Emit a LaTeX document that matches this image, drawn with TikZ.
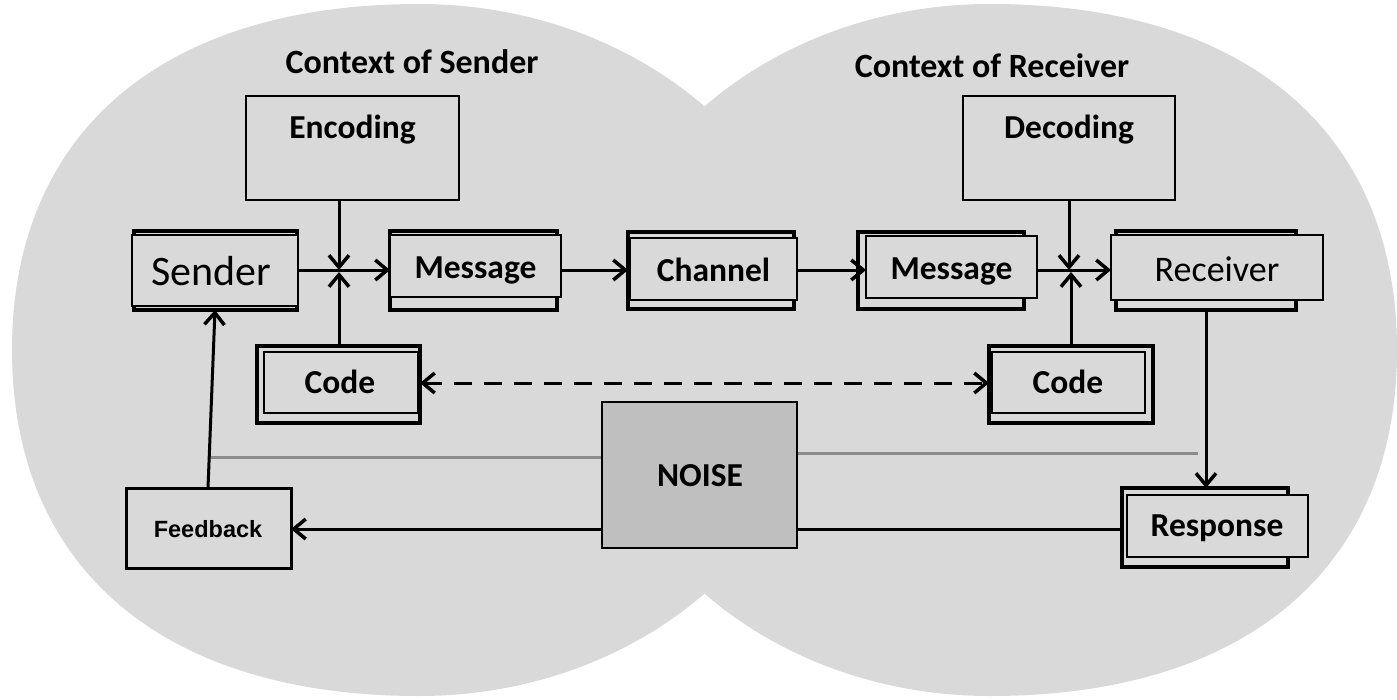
\documentclass[tikz,border=0pt]{standalone}
\usepackage{fontspec}
\setmainfont{Carlito}
\newfontfamily\arialf{Liberation Sans}
\usetikzlibrary{arrows.meta}
\definecolor{bgc}{HTML}{D9D9D9}
\definecolor{noisec}{HTML}{BFBFBF}
\definecolor{greyl}{HTML}{8C8C8C}
\tikzset{
  backbox/.style={draw=black, line width=3.2pt, fill=bgc, inner sep=0pt, outer sep=0pt},
  frontbox/.style={draw=black, line width=2pt, fill=bgc, inner sep=0pt, outer sep=0pt},
  plainbox/.style={draw=black, line width=2.6pt, fill=bgc, inner sep=0pt, outer sep=0pt},
  lbl/.style={inner sep=0pt, anchor=base, font=\fontsize{33.5}{40}\selectfont\bfseries},
  barb/.tip={Straight Barb[length=12pt,width=20pt,line width=3.5pt]},
  arr/.style={line width=3pt, -barb},
  greyline/.style={line width=3pt, draw=greyl},
}
\begin{document}
\begin{tikzpicture}[x=1pt,y=-1pt]
\useasboundingbox (0,0) rectangle (1397,699);
\fill[white] (0,0) rectangle (1397,699);
% context shapes (slightly fuller than ellipses on the outer sides)
\fill[bgc] (12,350) .. controls (12,132) and (162.6,4) .. (419,4)
  .. controls (641,4) and (821,159) .. (821,350)
  .. controls (821,541) and (641,696) .. (419,696)
  .. controls (162.6,696) and (12,568) .. (12,350) -- cycle;
\fill[bgc] (588,350) .. controls (588,159) and (768,4) .. (990,4)
  .. controls (1246.4,4) and (1397,132) .. (1397,350)
  .. controls (1397,568) and (1246.4,696) .. (990,696)
  .. controls (768,696) and (588,541) .. (588,350) -- cycle;

% titles
\node[lbl, font=\fontsize{34}{40}\selectfont\bfseries] (ctxS) at (412,73) {Context of Sender};
\node[lbl, font=\fontsize{34}{40}\selectfont\bfseries] (ctxR) at (992,77) {Context of Receiver};

% encoding / decoding
\node[plainbox, minimum width=213pt, minimum height=104pt] (enc) at (352.5,148) {};
\node[plainbox, minimum width=212pt, minimum height=104pt] (dec) at (1069,148) {};
\node[lbl] (encT) at (352.5,138) {Encoding};
\node[lbl] (decT) at (1069,138) {Decoding};

% sender
\node[backbox, minimum width=163pt, minimum height=79pt] (senderB) at (215.5,270.5) {};
\node[frontbox, minimum width=166pt, minimum height=71pt] (sender) at (215,270.5) {};
\node[lbl, font=\fontsize{42}{48}\selectfont] (senderT) at (211,285) {Sender};

% message 1
\node[backbox, minimum width=167pt, minimum height=79pt] (msg1B) at (473.5,270.5) {};
\node[frontbox, minimum width=171pt, minimum height=62pt] (msg1) at (475.5,266) {};
\node[lbl] (msg1T) at (475.5,278) {Message};

% channel
\node[backbox, minimum width=166pt, minimum height=77pt] (chanB) at (711,270.5) {};
\node[frontbox, minimum width=167pt, minimum height=62pt] (chan) at (713.5,269) {};
\node[lbl] (chanT) at (713.5,281) {Channel};

% message 2
\node[backbox, minimum width=166pt, minimum height=77pt] (msg2B) at (941,270.5) {};
\node[frontbox, minimum width=171pt, minimum height=62pt] (msg2) at (951.5,267) {};
\node[lbl] (msg2T) at (951.5,279) {Message};

% receiver
\node[backbox, minimum width=180pt, minimum height=79pt] (recvB) at (1206,270.5) {};
\node[frontbox, minimum width=212pt, minimum height=65pt] (recv) at (1217,267.5) {};
\node[lbl, font=\fontsize{36}{42}\selectfont] (recvT) at (1217,281) {Receiver};

% code boxes
\node[backbox, minimum width=163pt, minimum height=77pt] (code1B) at (338.5,384.5) {};
\node[frontbox, minimum width=154pt, minimum height=61pt] (code1) at (341,382.5) {};
\node[lbl] (code1T) at (340,393) {Code};
\node[backbox, minimum width=164pt, minimum height=77pt] (code2B) at (1071,384.5) {};
\node[frontbox, minimum width=153pt, minimum height=61pt] (code2) at (1068.5,382.5) {};
\node[lbl] (code2T) at (1068,393) {Code};

% response
\node[backbox, minimum width=166pt, minimum height=79pt] (respB) at (1205,527.5) {};
\node[frontbox, minimum width=181pt, minimum height=62pt] (resp) at (1217.5,526) {};
\node[lbl] (respT) at (1217,536) {Response};

% feedback
\node[plainbox, line width=3pt, minimum width=165pt, minimum height=80pt] (fb) at (208.5,528) {};
\node[inner sep=0pt, anchor=base, font=\arialf\bfseries\fontsize{23.5}{28}\selectfont] (fbT) at (208,537) {Feedback};

% crossing points
\coordinate (x1) at (339,270);
\coordinate (x2) at (1069,270);
\coordinate (fbtop) at (208,488);
\coordinate (gl) at (208.5,457);
\coordinate (gr) at (1198,453);

% noise lines (grey)
\draw[greyline] (gl) -- (602,457);
\draw[greyline] (797,453) -- (gr);
% response -> feedback (under noise)
\draw[arr] (respB.west |- 0,529) -- (fb.east |- 0,529);

% noise box
\node[draw=black, line width=2pt, fill=noisec, inner sep=0pt, minimum width=195pt, minimum height=146pt] (noise) at (699.5,475) {};
\node[lbl] (noiseT) at (700,486) {NOISE};

% main chain
\draw[arr] (sender.east |- x1) -- (msg1B.west |- x1);
\draw[arr] (msg1.east |- x1) -- (chanB.west |- x1);
\draw[arr] (chan.east |- x1) -- (msg2.west |- x1);
\draw[arr] (msg2.east |- x2) -- (recv.west |- x2);
% encoding / code into crossing 1
\draw[arr] (enc.south -| x1) -- (x1);
\draw[arr] (code1B.north -| x1) -- ([yshift=-2pt]x1);
% decoding / code into crossing 2
\draw[arr] (dec.south -| x2) -- (x2);
\draw[arr] ([xshift=2pt]code2B.north -| x2) -- ([xshift=2pt,yshift=-2pt]x2);
% code <-> code
\draw[line width=3pt, dash pattern=on 18pt off 12pt, barb-barb] (code1B.east |- 0,383) -- (code2B.west |- 0,383);
% receiver -> response
\draw[arr] (recvB.south -| 1206,0) -- (respB.north -| 1206,0);
% feedback -> sender
\draw[arr] (fbtop) -- (senderB.south -| 215,0);
\end{tikzpicture}
\end{document}
